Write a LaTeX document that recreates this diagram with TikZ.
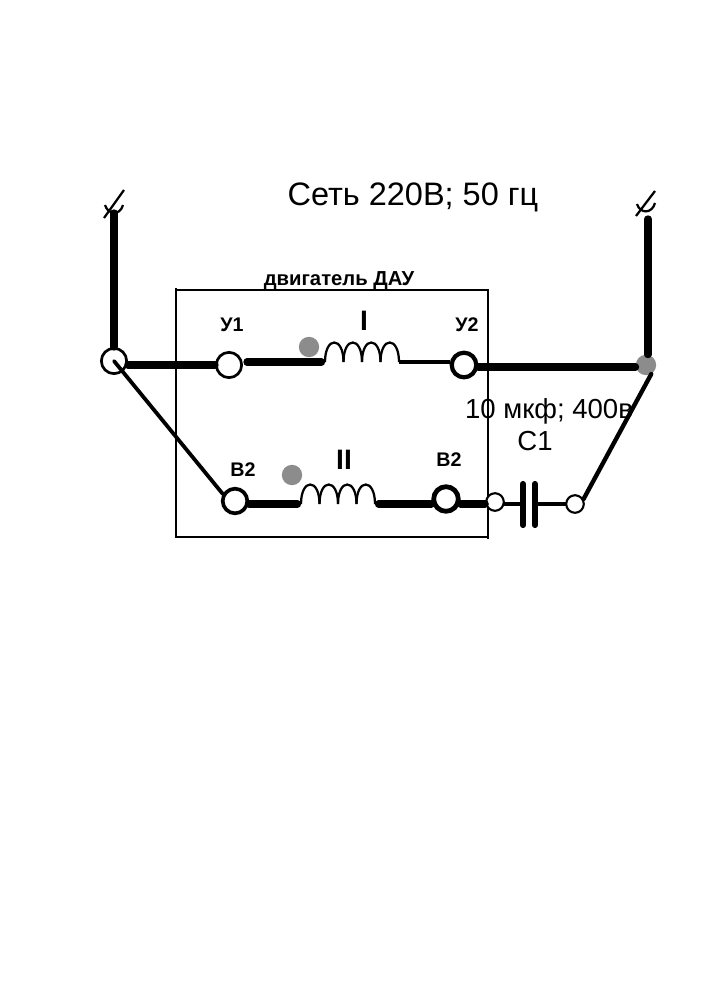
\documentclass[tikz,border=0pt]{standalone}
\usepackage{fontspec}
\setmainfont{Liberation Sans}
\usetikzlibrary{positioning,calc}

\tikzset{
	terminal/.style={draw,circle,fill=white,inner sep=0pt,line width=#1},
	terminal/.default=2pt,
	graydot/.style={circle,fill=black!45,inner sep=0pt,minimum size=14.5pt},
	heavywire/.style={line width=5.2pt,line cap=round},
	midwire/.style={line width=2.4pt,line cap=round},
	coilwire/.style={line width=1.6pt},
	plate/.style={line width=4.4pt,line cap=round},
	boxline/.style={line width=1.4pt},
	biglabel/.style={inner sep=0pt,font=\fontsize{23.1}{26}\selectfont},
	midlabel/.style={inner sep=0pt,font=\fontsize{19.6}{24}\selectfont},
	smalllabel/.style={inner sep=0pt,font=\bfseries\fontsize{14}{16}\selectfont},
	numlabel/.style={inner sep=0pt,font=\bfseries\fontsize{20}{22}\selectfont},
}

\begin{document}
\begin{tikzpicture}[x=0.25mm,y=-0.25mm]
	\useasboundingbox (0,0) rectangle (707,1000);
	% motor box
	\draw[boxline] (176,288) -- (176,537) -- (488,537);
	\draw[boxline] (176,290) -- (488,290) -- (488,539);
	% terminals
	\node[terminal=1.9pt,minimum size=18pt] (netL) at (114,361) {};
	\node[graydot] (netR) at (646,365) {};
	\node[terminal=1.9pt,minimum size=18pt] (U1) at (229,365) {};
	\node[terminal=3pt,minimum size=17.5pt] (U2) at (464,365) {};
	\node[terminal=2.6pt,minimum size=17.5pt] (V2a) at (235,501) {};
	\node[terminal=3.4pt,minimum size=17.5pt] (V2b) at (446,499) {};
	\node[terminal=1.5pt,minimum size=12.5pt] (capL) at (495,502) {};
	\node[terminal=1.5pt,minimum size=12.5pt] (capR) at (575,504) {};
	% phase marks
	\node[graydot] (dotI) at (309,347) {};
	\node[graydot] (dotII) at (292,475) {};
	% free ends of the wires
	\coordinate (tipL) at (114,213);
	\coordinate (tipR) at (648,219);
	\coordinate (coilIa) at (325,362);
	\coordinate (coilIb) at (399,362);
	\coordinate (coilIIa) at (301,504);
	\coordinate (coilIIb) at (375,504);
	\coordinate (plateA) at (523,504);
	\coordinate (plateB) at (535,504);
	% mains
	\draw[heavywire] (tipL) -- (netL);
	\draw[heavywire] (tipR) -- (tipR |- netR.north);
	\draw[heavywire] (netL.east |- U1) -- (U1.west);
	\draw[heavywire] (U2.east |- 0,367) -- (netR.west |- 0,367);
	% winding I
	\draw[heavywire,shorten >=2.5pt] (247,362) -- (coilIa);
	\draw[midwire,line cap=butt] (coilIb) -- (U2.west |- coilIb);
	\foreach \i in {0,1,2,3}
		\draw[coilwire] ($(coilIa)+(\i*18.5,0)$) .. controls +(0,-26) and +(0,-26) .. ($(coilIa)+(\i*18.5+18.5,0)$);
	% winding II
	\draw[heavywire,shorten >=2.5pt] (V2a.east |- coilIIa) -- (coilIIa);
	\draw[heavywire,shorten >=0pt,shorten <=2.5pt] (coilIIb) -- (V2b.west |- coilIIb);
	\draw[heavywire] (V2b.east |- coilIIa) -- (capL.west |- coilIIa);
	\foreach \i in {0,1,2,3}
		\draw[coilwire] ($(coilIIa)+(\i*18.5,0)$) .. controls +(0,-26) and +(0,-26) .. ($(coilIIa)+(\i*18.5+18.5,0)$);
	% capacitor
	\draw[midwire] (capL.east |- plateA) -- (plateA);
	\draw[midwire] (plateB) -- (capR);
	\draw[plate] (523,484) -- (523,525);
	\draw[plate] (535,484) -- (535,525);
	% diagonals
	\draw[line width=2.7pt,line cap=round] (netL.center) -- (V2a.150);
	\draw[line width=3.1pt,line cap=round] (capR.30) -- (netR.-60);
	% tilde signs
	\draw[coilwire] (104,218) -- (124,190);
	\draw[coilwire] (105,205) .. controls (108,215) and (120,216) .. (123,205);
	\draw[coilwire] (636,216) -- (655,191);
	\draw[coilwire] (637,204) .. controls (640,214) and (652,214) .. (655,203);
	% labels
	\node[biglabel] (title) at (413,197) {Сеть 220В; 50 гц};
	\node[smalllabel,font=\bfseries\fontsize{14.4}{16}\selectfont] (motor) at (339,281) {двигатель ДАУ};
	\node[smalllabel] (lblU1) at (232,325) {У1};
	\node[smalllabel] (lblU2) at (467,325) {У2};
	\node[smalllabel] (lblVa) at (243,470) {В2};
	\node[smalllabel] (lblVb) at (449,460) {В2};
	\node[numlabel] (lblI) at (364,321) {I};
	\node[numlabel] (lblII) at (344,460) {II};
	\node[midlabel] (capval) at (549,411) {10 мкф; 400в};
	\node[midlabel] (capname) at (535,441) {С1};
\end{tikzpicture}
\end{document}
